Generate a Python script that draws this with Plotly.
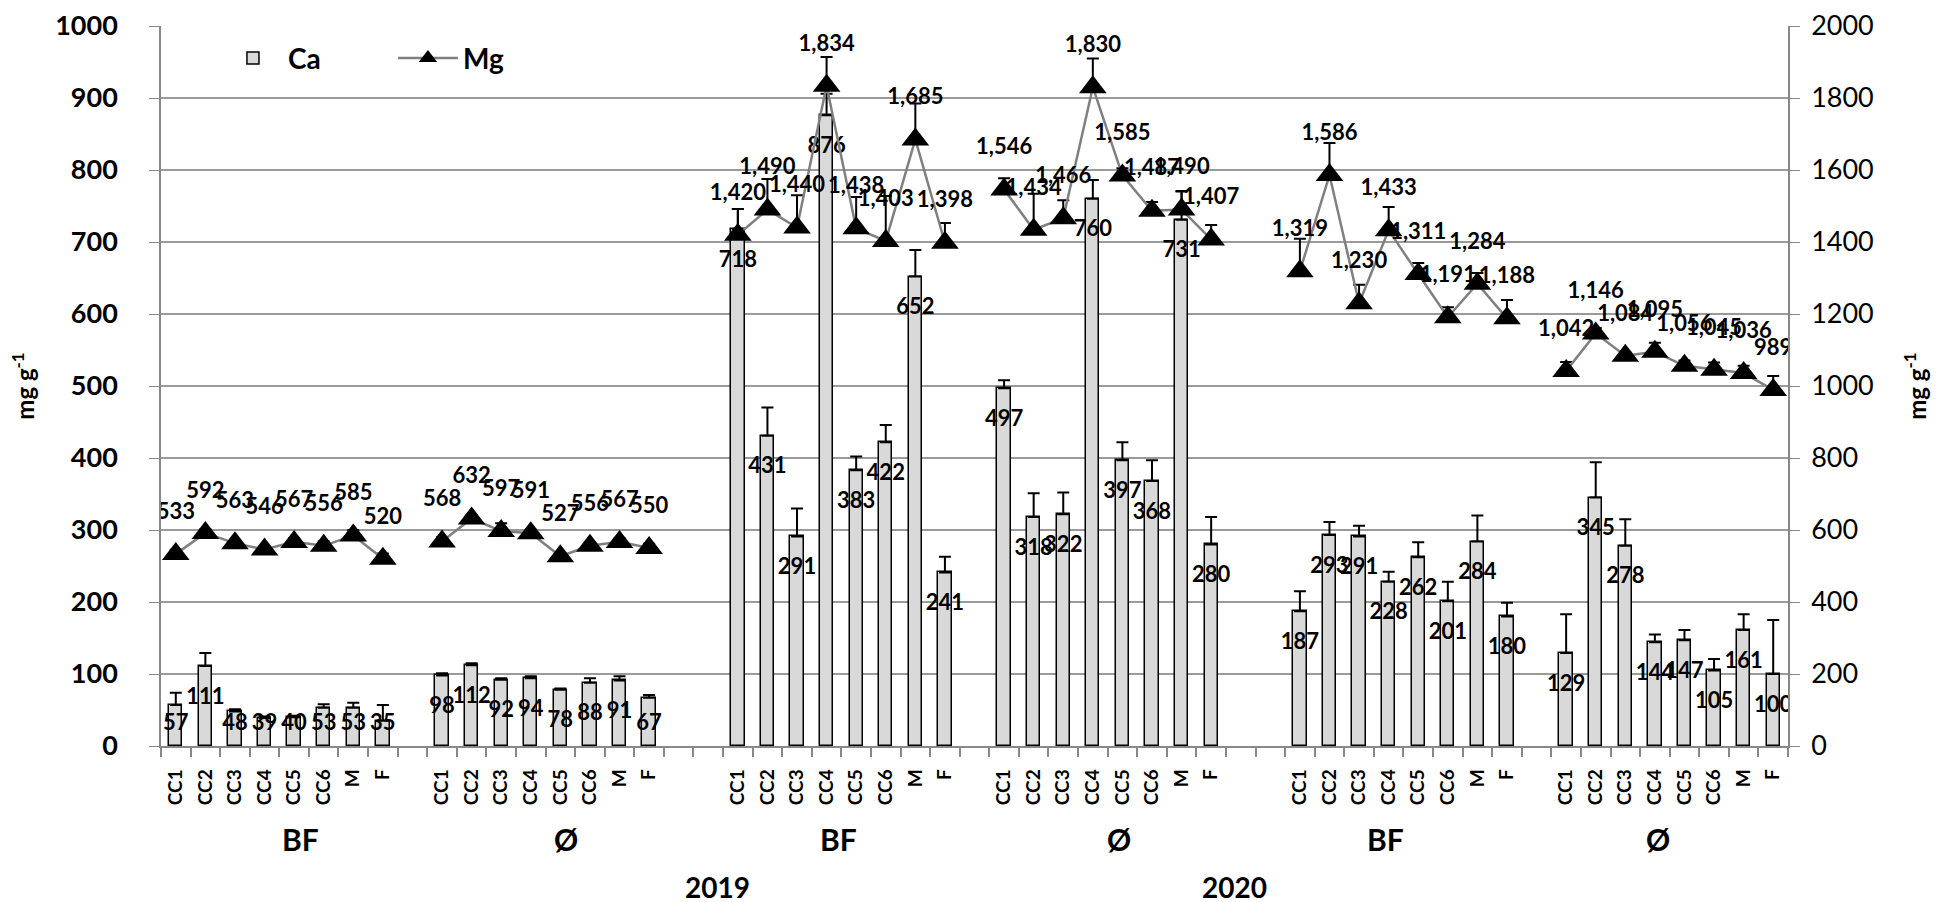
import plotly.graph_objects as go

# Categories and grouping
categories = ['CC1', 'CC2', 'CC3', 'CC4', 'CC5', 'CC6', 'M', 'F']
group_names = ['BF', 'Ø', 'BF', 'Ø', 'BF', 'Ø']
years = ['2019', '2020']
blank_after = [1, 2, 1, 2, 1]   # empty category slots between groups

# Ca (left axis), mean and + error, one list per group
ca_g1 = [57, 111, 48, 39, 40, 53, 53, 35]
ca_g2 = [98, 112, 92, 94, 78, 88, 91, 67]
ca_g3 = [718, 431, 291, 876, 383, 422, 652, 241]
ca_g4 = [497, 318, 322, 760, 397, 368, 731, 280]
ca_g5 = [187, 293, 291, 228, 262, 201, 284, 180]
ca_g6 = [129, 345, 278, 144, 147, 105, 161, 100]

ca_err_g1 = [17, 18, 3, 2, 2, 5, 7, 22]
ca_err_g2 = [3, 3, 2, 3, 2, 6, 6, 4]
ca_err_g3 = [28, 39, 39, 30, 19, 24, 37, 22]
ca_err_g4 = [11, 33, 30, 26, 25, 29, 40, 38]
ca_err_g5 = [28, 18, 15, 14, 21, 27, 36, 19]
ca_err_g6 = [54, 49, 37, 11, 14, 16, 22, 75]

# Mg (right axis)
mg_g1 = [533, 592, 563, 546, 567, 556, 585, 520]
mg_g2 = [568, 632, 597, 591, 527, 556, 567, 550]
mg_g3 = [1420, 1490, 1440, 1834, 1438, 1403, 1685, 1398]
mg_g4 = [1546, 1434, 1466, 1830, 1585, 1487, 1490, 1407]
mg_g5 = [1319, 1586, 1230, 1433, 1311, 1191, 1284, 1188]
mg_g6 = [1042, 1146, 1084, 1095, 1056, 1045, 1036, 989]

mg_err_g1 = [12, 10, 8, 8, 10, 12, 15, 15]
mg_err_g2 = [12, 10, 22, 10, 8, 10, 10, 12]
mg_err_g3 = [72, 85, 90, 80, 87, 125, 100, 55]
mg_err_g4 = [31, 100, 50, 80, 20, 24, 50, 40]
mg_err_g5 = [90, 89, 51, 64, 31, 28, 30, 51]
mg_err_g6 = [25, 15, 10, 25, 15, 20, 20, 39]

ca_groups = [ca_g1, ca_g2, ca_g3, ca_g4, ca_g5, ca_g6]
ca_err_groups = [ca_err_g1, ca_err_g2, ca_err_g3, ca_err_g4, ca_err_g5, ca_err_g6]
mg_groups = [mg_g1, mg_g2, mg_g3, mg_g4, mg_g5, mg_g6]
mg_err_groups = [mg_err_g1, mg_err_g2, mg_err_g3, mg_err_g4, mg_err_g5, mg_err_g6]

# label positions (in category slots) for the 2nd and 3rd axis levels
group_label_x = [4.2, 13.2, 22.4, 31.9, 40.9, 50.1]
year_label_x = [18.3, 35.8]
unit = 'mg g<sup>-1</sup>'

# slot positions
x_pos, ca, ca_err, ticktext = [], [], [], []
mg_x, mg, mg_err = [], [], []
start = 0
for g in range(6):
    xs = [start + i for i in range(8)]
    x_pos += xs
    ticktext += categories
    ca += ca_groups[g]
    ca_err += ca_err_groups[g]
    mg_x += xs
    mg += mg_groups[g]
    mg_err += mg_err_groups[g]
    if g < 5:
        # break the Mg line between groups
        mg_x.append(start + 8)
        mg.append(None)
        mg_err.append(0)
        start += 8 + blank_after[g]
n_slots = start + 8
boundaries = [i - 0.5 for i in range(n_slots + 1)]

bold = dict(family='Lato', color='black', weight='bold')

fig = go.Figure()

fig.add_trace(go.Bar(
    x=x_pos, y=ca, name='Ca', width=0.45,
    marker=dict(color='#d9d9d9', line=dict(color='black', width=1.5)),
    error_y=dict(type='data', symmetric=False, array=ca_err,
                 arrayminus=[0] * len(ca), color='black', thickness=2, width=6),
))

# Ca data labels, kept inside the bar near its top
fig.add_trace(go.Scatter(
    x=x_pos, y=[max(v, 74) for v in ca], mode='markers+text',
    text=[str(v) for v in ca], textposition='bottom center',
    textfont=dict(size=22, **bold),
    marker=dict(size=32, opacity=0), showlegend=False, hoverinfo='skip',
))

fig.add_trace(go.Scatter(
    x=mg_x, y=mg, name='Mg', yaxis='y2', mode='lines+markers',
    connectgaps=False,
    line=dict(color='#808080', width=2.5),
    marker=dict(symbol='triangle-up', size=24, color='black'),
    error_y=dict(type='data', symmetric=False, array=mg_err,
                 arrayminus=[0] * len(mg), color='black', thickness=2, width=6),
))

fig.add_trace(go.Scatter(
    x=mg_x, y=mg, yaxis='y2', mode='markers+text',
    text=['' if v is None else f'{v:,}' for v in mg], textposition='top center',
    textfont=dict(size=22, **bold),
    marker=dict(size=46, opacity=0), showlegend=False, hoverinfo='skip',
))

annotations = []
for name, gx in zip(group_names, group_label_x):
    annotations.append(dict(x=gx, y=-0.157, xref='x', yref='paper', text=name,
                            showarrow=False, font=dict(size=30, **bold)))
for yr, yx in zip(years, year_label_x):
    annotations.append(dict(x=yx, y=-0.222, xref='x', yref='paper', text=yr,
                            showarrow=False, font=dict(size=28, **bold)))
# axis titles
annotations.append(dict(x=-0.085, y=0.5, xref='paper', yref='paper', text=unit,
                        xanchor='center', yanchor='middle', textangle=-90,
                        showarrow=False, font=dict(size=24, **bold)))
annotations.append(dict(x=1.089, y=0.5, xref='paper', yref='paper', text=unit,
                        textangle=-90, showarrow=False, font=dict(size=24, **bold)))

fig.update_layout(
    width=1949, height=902,
    margin=dict(l=153, r=169, t=18, b=164),
    plot_bgcolor='white', paper_bgcolor='white',
    bargap=0,
    legend=dict(orientation='h', x=0.035, y=0.99, xanchor='left', yanchor='top',
                font=dict(size=28, **bold), bgcolor='rgba(0,0,0,0)',
                itemwidth=60, entrywidth=100, entrywidthmode='pixels'),
    xaxis=dict(range=[-0.5, n_slots - 0.5], tickmode='array', tickvals=x_pos,
               ticktext=ticktext, tickangle=-90, ticks='', showgrid=False,
               zeroline=False, showline=True, linecolor='#888888', linewidth=1.5,
               tickfont=dict(size=19, **bold), ticklabelstandoff=14,
               automargin=False,
               minor=dict(tickmode='array', tickvals=boundaries, ticks='outside',
                          ticklen=9, tickcolor='#888888', tickwidth=1.5,
                          showgrid=False)),
    yaxis=dict(range=[0, 1000.01], dtick=100, showgrid=True, gridcolor='#9a9a9a',
               gridwidth=1.5, zeroline=False, showline=True, linecolor='#888888',
               linewidth=1.5, ticks='outside', ticklen=10, tickcolor='#888888',
               tickfont=dict(size=27, **bold), ticklabelstandoff=26,
               ticklabeloverflow='allow', automargin=False),
    yaxis2=dict(range=[0, 2000.02], dtick=200, overlaying='y', side='right',
                showgrid=False, zeroline=False, showline=True, linecolor='#888888',
                linewidth=1.5, ticks='outside', ticklen=10, tickcolor='#888888',
                tickfont=dict(size=27, family='Lato', color='black'),
                ticklabelstandoff=6, ticklabeloverflow='allow', automargin=False),
    annotations=annotations,
)

fig.write_html('out.html')
